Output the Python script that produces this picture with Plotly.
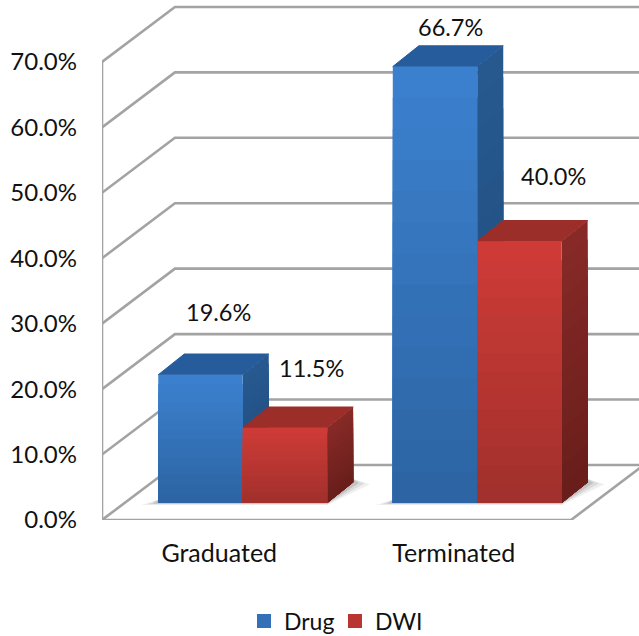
import plotly.graph_objects as go

# Chart values
categories = ["Graduated", "Terminated"]
drug_values = [19.6, 66.7]
dwi_values = [11.5, 40.0]
tick_values = [0, 10, 20, 30, 40, 50, 60, 70]
tick_labels = ["0.0%", "10.0%", "20.0%", "30.0%", "40.0%", "50.0%", "60.0%", "70.0%"]

FONT = "Lato"
GRID = "#A3A3A3"
INK = "#111111"

# Oblique projection of the box: wall depth, bar depth, bar inset, in axis units
WALL_DX, WALL_DY = 0.311, 8.41
BAR_DX, BAR_DY = 0.111, 3.17
INSET_X, INSET_Y = 0.10, 2.6
BAR_W = 0.36
XMIN, XMAX = -0.5, 1.79


def mix(c0, c1, t):
    a = [int(c0[i:i + 2], 16) for i in (1, 3, 5)]
    b = [int(c1[i:i + 2], 16) for i in (1, 3, 5)]
    return "#" + "".join(f"{round(p + (q - p) * t):02X}" for p, q in zip(a, b))


def poly(points, fill, line=None, width=0, opacity=1.0):
    path = "M" + " L".join(f"{x},{y}" for x, y in points) + " Z"
    return dict(type="path", path=path, xref="x", yref="y", layer="below",
                fillcolor=fill, opacity=opacity,
                line=dict(color=line or fill, width=width))


def segment(points, width=2.6):
    path = "M" + " L".join(f"{x},{y}" for x, y in points)
    return dict(type="path", path=path, xref="x", yref="y", layer="below",
                line=dict(color=GRID, width=width))


shapes = []

# Walls and floor outline
for v in tick_values:
    shapes.append(segment([(XMIN, v), (XMIN + WALL_DX, v + WALL_DY), (XMAX + 0.1, v + WALL_DY)]))
shapes.append(segment([(XMIN, 70), (XMIN, 0), (1.5, 0), (1.5 + WALL_DX, WALL_DY)]))

SERIES = [
    dict(name="Drug", values=drug_values, shift=-BAR_W,
         front=("#3B80CE", "#2D65A4"), side=("#27598F", "#204A7C"), top="#265C9B",
         swatch="#3470B8"),
    dict(name="DWI", values=dwi_values, shift=0.0,
         front=("#CE3B37", "#A2302C"), side=("#872A27", "#691E1B"), top="#9C2E2A",
         swatch="#B83532"),
]

STRIPS = 14
fig = go.Figure()

# Soft contact shadows around the feet of the bars
for i, cat in enumerate(categories):
    x0 = i + INSET_X - BAR_W
    x1 = i + INSET_X + BAR_W
    for k, op in zip((3, 2, 1), (0.10, 0.14, 0.20)):
        pad = 0.012 * k
        shapes.append(poly([(x0 - pad * 2, INSET_Y - 0.1 * k), (x1, INSET_Y - 0.1 * k),
                            (x1 + BAR_DX + pad * 2, INSET_Y + BAR_DY - 0.1 * k),
                            (x1 + BAR_DX, INSET_Y + BAR_DY + 0.5),
                            (x0, INSET_Y + 0.5)], "#606060", opacity=op))

# Side and top faces of each box; each strip is painted over the taller one behind it
for s in SERIES:
    for i, val in enumerate(s["values"]):
        x0 = i + INSET_X + s["shift"]
        x1 = x0 + BAR_W
        base = INSET_Y
        for n in range(STRIPS):
            t = n / (STRIPS - 1)
            h = base + val * (1 - n / STRIPS)
            shapes.append(poly([(x1, base), (x1 + BAR_DX, base + BAR_DY),
                                (x1 + BAR_DX, h + BAR_DY), (x1, h)],
                               mix(*s["side"], t)))
        top = base + val
        shapes.append(poly([(x0, top), (x1, top), (x1 + BAR_DX, top + BAR_DY),
                            (x0 + BAR_DX, top + BAR_DY)], s["top"], width=1))

# Front faces as overlaid bars, tallest first, giving a vertical shade
for s in SERIES:
    xs = [i + INSET_X + s["shift"] + BAR_W / 2 for i in range(len(categories))]
    for n in range(STRIPS):
        t = n / (STRIPS - 1)
        frac = 1 - n / STRIPS
        fig.add_trace(go.Bar(
            x=xs, y=[v * frac for v in s["values"]], base=INSET_Y, width=BAR_W,
            name=s["name"], showlegend=False, legendgroup=s["name"],
            marker=dict(color=mix(*s["front"], t), line=dict(width=0)), hoverinfo="skip"))
    # Legend key for the series
    fig.add_trace(go.Bar(
        x=[None], y=[None], name=s["name"], showlegend=True, legendgroup=s["name"],
        marker=dict(color=s["swatch"], line=dict(color=s["swatch"], width=2))))

# Value labels above the boxes
label_spots = [
    (-0.005, drug_values[0], 12.2), (0.985, drug_values[1], 8.6),
    (0.395, dwi_values[0], 11.7), (1.425, dwi_values[1], 12.6),
]
annotations = [
    dict(x=x, y=v + up, xref="x", yref="y", text=f"{v:.1f}%", showarrow=False,
         font=dict(family=FONT, size=23.5, color=INK))
    for x, v, up in label_spots
]

W, H = 639, 636
fig.update_layout(
    width=W, height=H, autosize=False,
    margin=dict(l=102, r=0, t=0, b=116),
    paper_bgcolor="white", plot_bgcolor="white",
    barmode="overlay", shapes=shapes, annotations=annotations,
    font=dict(family=FONT, size=24, color=INK),
    showlegend=True,
    legend=dict(orientation="h", xref="container", yref="container",
                x=256 / W, y=15 / H, xanchor="left", yanchor="middle",
                font=dict(family=FONT, size=23, color=INK), bgcolor="rgba(0,0,0,0)",
                itemwidth=30, indentation=-12, entrywidth=58, entrywidthmode="pixels",
                traceorder="normal"),
    xaxis=dict(range=[XMIN, XMAX],
               tickvals=list(range(len(categories))), ticktext=categories,
               tickfont=dict(family=FONT, size=25, color=INK),
               showgrid=False, zeroline=False, showline=False, ticks="", ticklabelstandoff=16),
    yaxis=dict(range=[0, 79.47], tickvals=tick_values, ticktext=tick_labels,
               showgrid=False, zeroline=False, showline=False, ticks="", ticklabelstandoff=24),
)

fig.write_html("out.html")
